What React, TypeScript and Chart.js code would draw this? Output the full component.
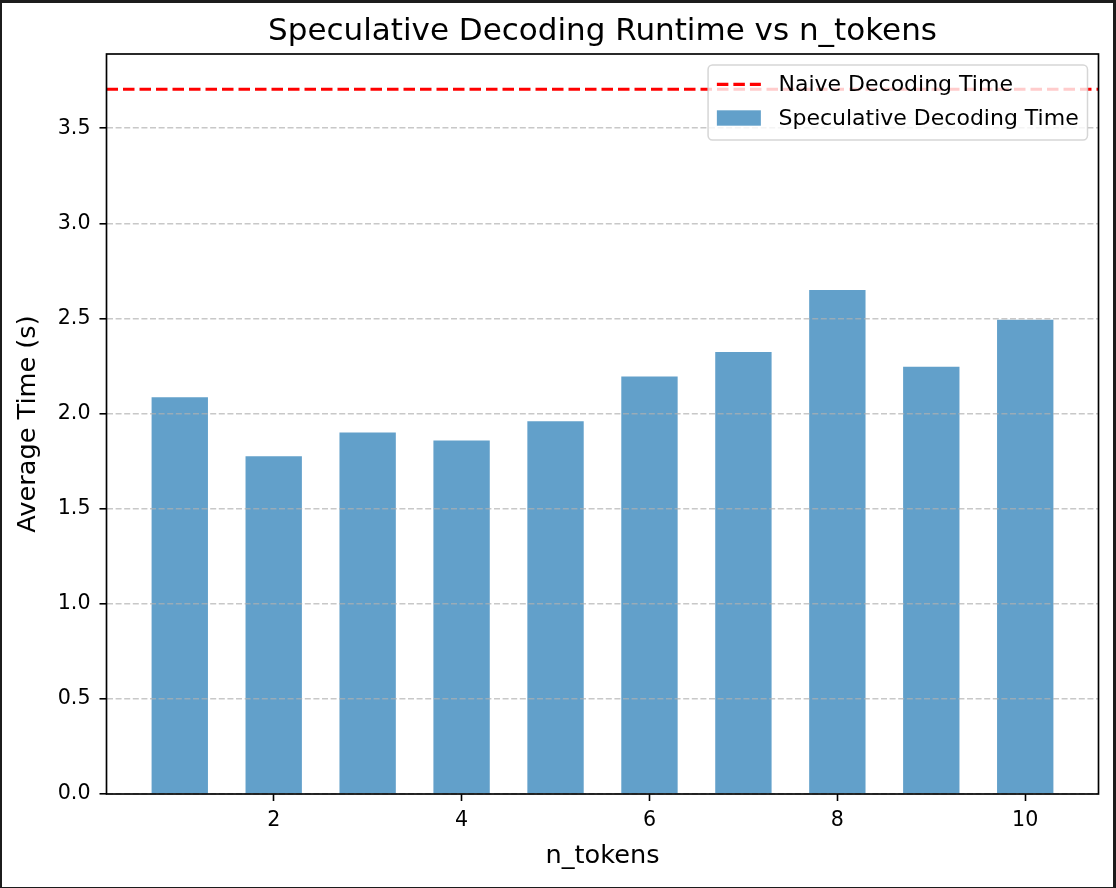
import { useEffect, useRef } from "react";
import { Chart, registerables } from "chart.js";

Chart.register(...registerables);

// ---- data ----
const nTokens = [1, 2, 3, 4, 5, 6, 7, 8, 9, 10];
const specTimes = [2.086, 1.775, 1.901, 1.859, 1.96, 2.195, 2.323, 2.65, 2.246, 2.493];
const naiveTime = 3.705;
const yTicks = [0, 0.5, 1.0, 1.5, 2.0, 2.5, 3.0, 3.5];
const xTicks = [2, 4, 6, 8, 10];
const xMin = 0.22;
const xMax = 10.78;
const yMax = naiveTime * 1.05;

const FONT = "'DejaVu Sans', 'Liberation Sans', sans-serif";
const BAR_COLOR = "rgba(31,119,180,0.7)";
const RED = "#ff0000";

const titleAlignPlugin = {
  id: "titleAlign",
  afterLayout(chart: any) {
    const t = chart.titleBlock;
    if (t) {
      t.left = chart.chartArea.left;
      t.right = chart.chartArea.right;
      t.width = t.right - t.left;
    }
  },
};

const framePlugin = {
  id: "frameAndLegend",
  afterDraw(chart: any) {
    const ctx: CanvasRenderingContext2D = chart.ctx;
    const ca = chart.chartArea;
    ctx.save();
    // spines
    ctx.strokeStyle = "#000";
    ctx.lineWidth = 1.67;
    ctx.setLineDash([]);
    ctx.strokeRect(ca.left, ca.top, ca.right - ca.left, ca.bottom - ca.top);

    // legend
    const fs = 22;
    ctx.font = `${fs}px ${FONT}`;
    const ds = chart.data.datasets;
    const labels: string[] = ds.map((d: any) => d.label);
    const textW = Math.max(...labels.map((l) => ctx.measureText(l).width));
    const pad = 0.4 * fs;
    const handleLen = 2 * fs;
    const textPad = 0.8 * fs;
    const rowH = 23.2;
    const spacing = 0.5 * fs;
    const w = pad + handleLen + textPad + textW + pad;
    const h = 2 * pad + 2 * rowH + spacing;
    const right = ca.right - 0.5 * fs;
    const left = right - w;
    const top = ca.top + 0.5 * fs;
    ctx.beginPath();
    (ctx as any).roundRect(left, top, w, h, 0.2 * fs);
    ctx.fillStyle = "rgba(255,255,255,0.8)";
    ctx.fill();
    ctx.strokeStyle = "rgba(204,204,204,0.8)";
    ctx.lineWidth = 1.5;
    ctx.stroke();

    const rows = [top + pad + rowH / 2, top + pad + rowH / 2 + rowH + spacing];
    const hx = left + pad;
    // row 1: dashed line
    const d0: any = ds[0];
    ctx.beginPath();
    ctx.strokeStyle = d0.borderColor;
    ctx.lineWidth = d0.borderWidth;
    ctx.setLineDash(d0.borderDash);
    ctx.moveTo(hx, rows[0] - 1);
    ctx.lineTo(hx + handleLen, rows[0] - 1);
    ctx.stroke();
    ctx.setLineDash([]);
    // row 2: patch
    const d1: any = ds[1];
    ctx.fillStyle = d1.backgroundColor;
    ctx.fillRect(hx, rows[1] - 1.6 - 0.35 * fs, handleLen, 0.7 * fs);

    ctx.fillStyle = "#000";
    ctx.textAlign = "left";
    ctx.textBaseline = "middle";
    labels.forEach((l, i) => ctx.fillText(l, hx + handleLen + textPad, rows[i]));
    ctx.restore();
  },
};

export default function App() {
  const ref = useRef<HTMLCanvasElement>(null);

  useEffect(() => {
    document.body.style.margin = "0";
    const chart = new Chart(ref.current as HTMLCanvasElement, {
      type: "bar",
      data: {
        datasets: [
          {
            type: "line",
            label: "Naive Decoding Time",
            data: [
              { x: xMin, y: naiveTime },
              { x: xMax, y: naiveTime },
            ],
            borderColor: RED,
            borderWidth: 3.1,
            borderDash: [11.5, 5],
            pointRadius: 0,
            fill: false,
            order: 0,
          } as any,
          {
            type: "bar",
            label: "Speculative Decoding Time",
            data: nTokens.map((x, i) => ({ x, y: specTimes[i] })),
            backgroundColor: BAR_COLOR,
            borderWidth: 0,
            categoryPercentage: 1,
            barPercentage: 0.6,
            order: 1,
          } as any,
        ],
      },
      options: {
        animation: false,
        responsive: false,
        devicePixelRatio: 1,
        layout: { padding: { left: 0, top: 0, bottom: 0, right: 17.5 } },
        plugins: {
          legend: { display: false },
          tooltip: { enabled: false },
          title: {
            display: true,
            text: "Speculative Decoding Runtime vs n_tokens",
            color: "#000",
            font: { family: FONT, size: 31, weight: "normal" as any, lineHeight: 1.2 },
            padding: { top: 13.7, bottom: 3.1 },
          },
        },
        scales: {
          x: {
            type: "linear",
            min: xMin,
            max: xMax,
            offset: false,
            afterBuildTicks: (s: any) => {
              s.ticks = xTicks.map((v) => ({ value: v }));
            },
            afterFit: (s: any) => {
              s.height = 94;
            },
            grid: {
              display: true,
              drawOnChartArea: false,
              drawTicks: true,
              tickLength: 7,
              tickWidth: 1.6,
              tickColor: "#000",
              offset: false,
            },
            border: { display: false },
            ticks: {
              padding: 7.6,
              color: "#000",
              font: { family: FONT, size: 20.6 },
              maxRotation: 0,
              autoSkip: false,
              callback: (v: any) => String(v),
            },
            title: {
              display: true,
              text: "n_tokens",
              color: "#000",
              font: { family: FONT, size: 25.6, lineHeight: 1.2 },
              padding: { top: 0, bottom: 16.5 },
            },
          },
          y: {
            type: "linear",
            min: 0,
            max: yMax,
            afterBuildTicks: (s: any) => {
              s.ticks = yTicks.map((v) => ({ value: v }));
            },
            afterFit: (s: any) => {
              s.width = 106.5;
            },
            grid: {
              color: "rgba(176,176,176,0.7)",
              lineWidth: 1.6,
              z: 1,
              drawTicks: true,
              tickLength: 7,
              tickWidth: 1.6,
              tickColor: "#000",
            },
            border: { display: false, dash: [6, 2.6] },
            ticks: {
              padding: 9,
              color: "#000",
              font: { family: FONT, size: 20.6 },
              callback: (v: any) => Number(v).toFixed(1),
            },
            title: {
              display: true,
              text: "Average Time (s)",
              color: "#000",
              font: { family: FONT, size: 25.6, lineHeight: 1.2 },
              padding: { top: 12.6, bottom: 0 },
            },
          },
        },
      } as any,
      plugins: [titleAlignPlugin, framePlugin],
    });
    return () => chart.destroy();
  }, []);

  return (
    <div style={{ position: "relative", width: 1116, height: 888, background: "#1c1c1c", overflow: "hidden" }}>
      <div style={{ position: "absolute", left: 2, top: 3, width: 1111, height: 884, background: "#fff" }} />
      <canvas ref={ref} width={1116} height={888} style={{ position: "absolute", left: 0, top: 0 }} />
    </div>
  );
}
